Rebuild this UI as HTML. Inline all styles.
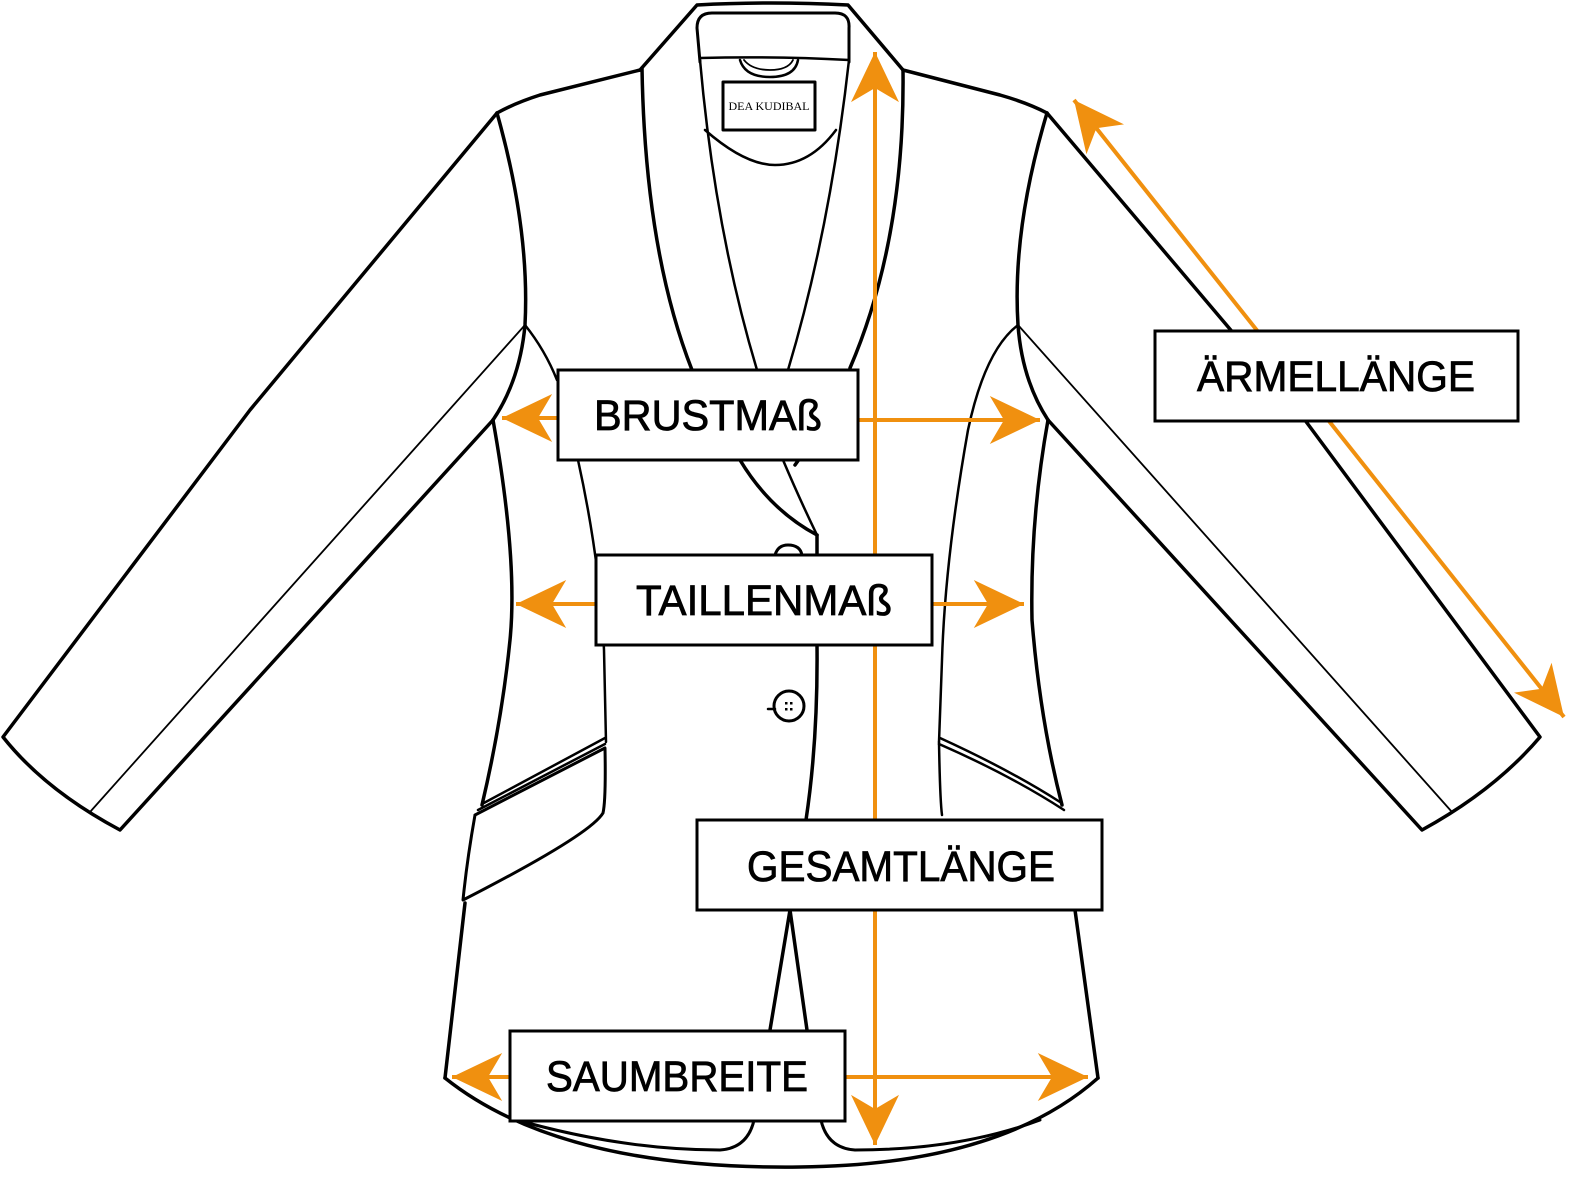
<!DOCTYPE html>
<html><head><meta charset="utf-8"><style>
html,body{margin:0;padding:0;background:#fff}
svg{display:block}
text{font-family:"Liberation Sans",sans-serif}
</style></head><body>
<svg width="1582" height="1181" viewBox="0 0 1582 1181" xmlns="http://www.w3.org/2000/svg">
<defs>
<marker id="ah" markerUnits="userSpaceOnUse" markerWidth="60" markerHeight="60" viewBox="-50 -25 55 50" refX="0" refY="0" orient="auto-start-reverse">
<path d="M0,0 L-46,-22 L-33,0 L-46,22 Z" fill="#f0900f"/>
</marker>
</defs>
<g fill="none" stroke="#000" stroke-width="3.5" stroke-linejoin="round" stroke-linecap="round">
<!-- collar back -->
<path d="M640,70 L697,5 Q770,1 848,5 L903,70"/>
<path d="M700,62 L697,28 Q697,13 712,13 L835,13 Q850,13 849,28 L849,62" stroke-width="3"/>
<path d="M700,58 Q775,56 849,60" stroke-width="2.5"/>
<path d="M740,60 Q745,77 770,77 Q795,77 798,60" stroke-width="2.5"/>
<path d="M744,60 Q752,70 770,70 Q788,70 793,60" stroke-width="1.8"/>
<rect x="723" y="82" width="92" height="48" stroke-width="3"/>
<path d="M705,130 Q745,165 775,165 Q810,165 836,130" stroke-width="2.5"/>
<!-- shoulders -->
<path d="M640,70 L540,95 Q515,103 497,113"/>
<path d="M903,70 L1000,95 Q1028,103 1047,113"/>
<!-- lapels -->
<path d="M642,68 Q645,250 692,370"/>
<path d="M700,60 Q715,230 757,370" stroke-width="2.5"/>
<path d="M849,60 Q830,230 788,370" stroke-width="2.5"/>
<path d="M903,70 Q905,240 850,368"/>
<path d="M740,460 Q770,510 817,535"/>
<path d="M783,460 Q800,500 817,535" stroke-width="2.5"/>
<path d="M795,465 L800,458"/>
<path d="M817,535 L817,555"/>
<path d="M817,645 Q818,740 806,820"/>
<!-- left body -->
<path d="M497,113 Q530,230 525,325 Q520,380 493,420"/>
<path d="M493,420 Q518,560 510,640 Q502,720 482,805"/>
<path d="M525,325 Q545,350 557,380" stroke-width="2.5"/>
<path d="M578,460 Q600,560 604,650 L606,742" stroke-width="2.5"/>
<path d="M482,804 L605,738" stroke-width="2.5"/>
<path d="M478,810 L605,744" stroke-width="2.5"/>
<path d="M475,815 L605,748 Q606,800 603,813 Q590,835 463,900 Q467,860 475,815" stroke-width="3"/>
<path d="M465,903 L445,1078"/>
<!-- right body -->
<path d="M1047,113 Q1012,230 1018,325 Q1022,380 1048,420"/>
<path d="M1048,420 Q1030,520 1032,620 Q1040,720 1062,805"/>
<path d="M1018,325 Q985,350 968,430 Q945,560 942,660 L939,742" stroke-width="2.5"/>
<path d="M939,742 Q940,800 942,815" stroke-width="2.5"/>
<path d="M940,738 Q1010,770 1060,802" stroke-width="2.5"/>
<path d="M939,744 Q1010,775 1064,810" stroke-width="2.5"/>
<path d="M1075,910 L1098,1078"/>
<!-- hem -->
<path d="M445,1078 Q560,1170 800,1167 Q1000,1165 1098,1078"/>
<path d="M755,1115 Q750,1148 720,1150 Q620,1150 510,1118" stroke-width="3"/>
<path d="M820,1115 Q825,1148 855,1150 Q960,1150 1040,1120" stroke-width="3"/>
<!-- back vent -->
<path d="M790,910 L770,1030 M790,910 L807,1030"/>
<!-- left sleeve -->
<path d="M497,113 L250,410 L3,737 Q45,790 120,830 L493,420"/>
<path d="M525,325 L90,812" stroke-width="1.8"/>
<!-- right sleeve -->
<path d="M1047,113 L1290,400 L1540,737 Q1495,790 1422,830 L1048,420"/>
<path d="M1018,325 L1452,812" stroke-width="1.8"/>
<!-- buttons -->
<path d="M775,555 Q778,545 788,545 Q800,545 802,555" stroke-width="3"/>
<circle cx="789" cy="706" r="15" stroke-width="3"/>
<path d="M768,709 L775,709" stroke-width="2.5"/>
</g>
<g fill="#000"><rect x="785" y="702" width="2.5" height="2.5"/><rect x="790" y="702" width="2.5" height="2.5"/><rect x="785" y="708" width="2.5" height="2.5"/><rect x="790" y="708" width="2.5" height="2.5"/></g>
<text x="769" y="110" font-size="12" text-anchor="middle" style="font-family:'Liberation Serif',serif">DEA KUDIBAL</text>
<!-- orange measures -->
<g stroke="#f0900f" stroke-width="4" fill="none">
<line x1="875" y1="52" x2="875" y2="1145" marker-start="url(#ah)" marker-end="url(#ah)"/>
<line x1="502" y1="418" x2="558" y2="418" marker-start="url(#ah)"/>
<line x1="858" y1="420" x2="1040" y2="420" marker-end="url(#ah)"/>
<line x1="516" y1="604" x2="596" y2="604" marker-start="url(#ah)"/>
<line x1="932" y1="604" x2="1024" y2="604" marker-end="url(#ah)"/>
<line x1="452" y1="1077" x2="510" y2="1077" marker-start="url(#ah)"/>
<line x1="845" y1="1077" x2="1088" y2="1077" marker-end="url(#ah)"/>
<line x1="1074" y1="100" x2="1564" y2="717" marker-start="url(#ah)" marker-end="url(#ah)"/>
</g>
<!-- label boxes -->
<g fill="#fff" stroke="#000" stroke-width="3">
<rect x="558" y="370" width="300" height="90"/>
<rect x="596" y="555" width="336" height="90"/>
<rect x="1155" y="331" width="363" height="90"/>
<rect x="697" y="820" width="405" height="90"/>
<rect x="510" y="1031" width="335" height="90"/>
</g>
<g font-size="43" fill="#000" stroke="#000" stroke-width="0.8" text-anchor="middle">
<text x="708" y="430" textLength="228" lengthAdjust="spacingAndGlyphs">BRUSTMAß</text>
<text x="764" y="615" textLength="256" lengthAdjust="spacingAndGlyphs">TAILLENMAß</text>
<text x="1336" y="391" textLength="278" lengthAdjust="spacingAndGlyphs">ÄRMELLÄNGE</text>
<text x="901" y="881" textLength="308" lengthAdjust="spacingAndGlyphs">GESAMTLÄNGE</text>
<text x="677" y="1091" textLength="262" lengthAdjust="spacingAndGlyphs">SAUMBREITE</text>
</g>
</svg>
</body></html>
